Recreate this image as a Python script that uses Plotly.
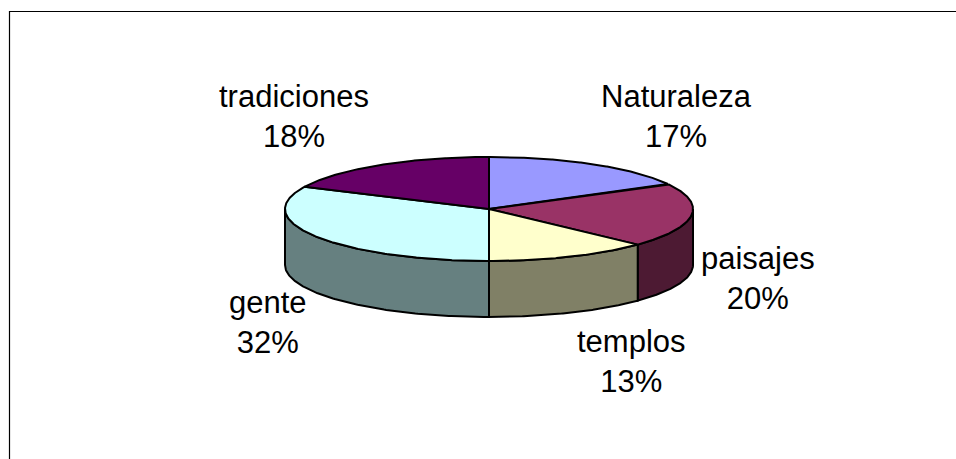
import numpy as np
import plotly.graph_objects as go

# ---- data ----
categories = ["Naturaleza", "paisajes", "templos", "gente", "tradiciones"]
values = [17, 20, 13, 32, 18]
top_colors = ["#9999FF", "#993366", "#FFFFCC", "#CCFFFF", "#660066"]
side_colors = ["#4D4D80", "#4D1A33", "#808066", "#668080", "#330033"]

# ---- layout / geometry (pixel space) ----
W, H = 956, 459
CX, CY = 489, 209      # centre of top ellipse
RX, RY = 204, 52       # radii of top ellipse
DEPTH = 56             # thickness of the pie
FONT = dict(family="Liberation Sans, Arial, sans-serif", size=31, color="black")
label_pos = {
    "Naturaleza": (676, 116),
    "paisajes": (758, 278),
    "templos": (631, 361),
    "gente": (268, 322),
    "tradiciones": (294, 116),
}


def ex(t):
    return CX + RX * np.sin(t)


def ey(t, dz=0):
    return CY - RY * np.cos(t) + dz


total = float(sum(values))
fracs = np.cumsum([0] + values) / total
angles = fracs * 2 * np.pi

fig = go.Figure()

# side walls (only the front half, pi/2 .. 3pi/2, is visible)
for i, cat in enumerate(categories):
    a0, a1 = angles[i], angles[i + 1]
    s0, s1 = max(a0, np.pi / 2), min(a1, 3 * np.pi / 2)
    if s1 <= s0:
        continue
    t = np.linspace(s0, s1, 120)
    xs = np.concatenate([ex(t), ex(t[::-1]), [ex(t[0])]])
    ys = np.concatenate([ey(t), ey(t[::-1], DEPTH), [ey(t[0])]])
    fig.add_trace(go.Scatter(
        x=xs, y=ys, mode="lines", fill="toself",
        fillcolor=side_colors[i], line=dict(color="black", width=2),
        hoverinfo="skip", showlegend=False))

# top faces
for i, cat in enumerate(categories):
    a0, a1 = angles[i], angles[i + 1]
    t = np.linspace(a0, a1, 200)
    xs = np.concatenate([[CX], ex(t), [CX]])
    ys = np.concatenate([[CY], ey(t), [CY]])
    fig.add_trace(go.Scatter(
        x=xs, y=ys, mode="lines", fill="toself",
        fillcolor=top_colors[i], line=dict(color="black", width=2),
        name=cat, hoverinfo="name", showlegend=False))

# labels
for cat, v in zip(categories, values):
    x, y = label_pos[cat]
    fig.add_annotation(x=x, y=y, xref="x", yref="y",
                       text=f"{cat}<br>{v}%", showarrow=False,
                       font=FONT, align="center",
                       xanchor="center", yanchor="middle")

# chart-area border: only left and top edges fall inside the picture
fig.add_shape(type="path", xref="x", yref="y",
              path=f"M 9.5,{H + 20} L 9.5,11.5 L {W + 20},11.5",
              line=dict(color="black", width=1.2), layer="below")

fig.update_layout(
    width=W, height=H,
    margin=dict(l=0, r=0, t=0, b=0),
    paper_bgcolor="white", plot_bgcolor="white",
    xaxis=dict(range=[0, W], visible=False, fixedrange=True),
    yaxis=dict(range=[H, 0], visible=False, fixedrange=True),
    showlegend=False,
)

fig.write_html(
    "out.html",
    config={"displayModeBar": False},
    post_script="document.body.style.margin='0';document.body.style.overflow='hidden';",
)
